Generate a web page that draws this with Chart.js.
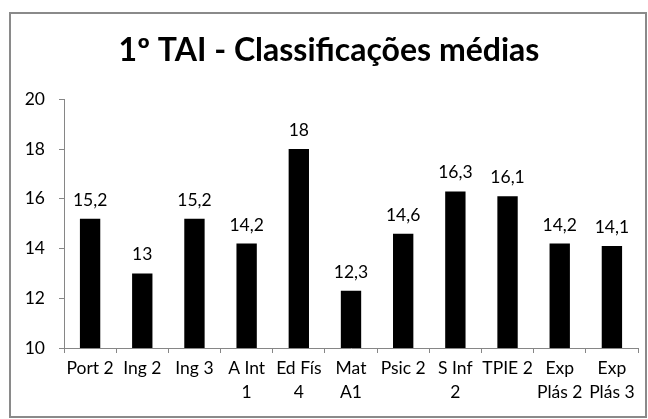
<!DOCTYPE html>
<html lang="pt">
<head>
<meta charset="UTF-8">
<title>1º TAI - Classificações médias</title>
<script src="https://cdn.jsdelivr.net/npm/chart.js"></script>
<style>
    html, body { margin: 0; padding: 0; background: #fff; }
    .wrap { position: relative; width: 648px; height: 419px; }
    .frame {
        position: absolute; left: 9px; top: 12px; width: 634px; height: 402px;
        border: 2px solid #8a8a8a; pointer-events: none;
    }
</style>
</head>
<body>
<div class="wrap">
    <canvas id="chart" width="648" height="419"></canvas>
    <div class="frame"></div>
</div>
<script>
    const disciplinas = ['Port 2', 'Ing 2', 'Ing 3', ['A Int', '1'], ['Ed Fís', '4'], ['Mat', 'A1'],
        'Psic 2', ['S Inf', '2'], 'TPIE 2', ['Exp', 'Plás 2'], ['Exp', 'Plás 3']];
    const medias = [15.2, 13, 15.2, 14.2, 18, 12.3, 14.6, 16.3, 16.1, 14.2, 14.1];
    const yTicks = [10, 12, 14, 16, 18, 20];

    const FONT = 'Lato, Carlito, Calibri, sans-serif';

    // rótulos de valor por cima das barras
    const valueLabels = {
        id: 'valueLabels',
        afterDatasetsDraw(chart) {
            const ctx = chart.ctx;
            const meta = chart.getDatasetMeta(0);
            ctx.save();
            ctx.font = '17.5px ' + FONT;
            ctx.fillStyle = '#000';
            ctx.textAlign = 'center';
            ctx.textBaseline = 'alphabetic';
            meta.data.forEach((bar, i) => {
                const txt = String(medias[i]).replace('.', ',');
                ctx.fillText(txt, bar.x, bar.y - 13);
            });
            ctx.restore();
        }
    };

    new Chart(document.getElementById('chart'), {
        type: 'bar',
        data: {
            labels: disciplinas,
            datasets: [{
                data: medias,
                backgroundColor: '#000',
                barPercentage: 1,
                categoryPercentage: 0.39
            }]
        },
        plugins: [valueLabels],
        options: {
            responsive: false,
            animation: false,
            layout: { padding: { left: 20, right: 10, top: 0, bottom: 9 } },
            plugins: {
                legend: { display: false },
                tooltip: { enabled: false },
                title: {
                    display: true,
                    text: '1º TAI - Classificações médias',
                    color: '#000',
                    font: { family: FONT, size: 32, weight: 'bold', lineHeight: 1.2 },
                    padding: { top: 31, bottom: 30 }
                }
            },
            scales: {
                x: {
                    grid: { drawOnChartArea: false, drawTicks: true, tickLength: 5, color: '#868686', offset: true },
                    border: { color: '#868686' },
                    ticks: { color: '#000', font: { family: FONT, size: 17.5, lineHeight: 1.4 }, padding: 3, maxRotation: 0, autoSkip: false },
                    afterFit(scale) { scale.height = 62; }
                },
                y: {
                    min: 10,
                    max: 20,
                    afterBuildTicks(scale) { scale.ticks = yTicks.map(v => ({ value: v })); },
                    grid: { drawOnChartArea: false, drawTicks: true, tickLength: 5, color: '#868686' },
                    border: { color: '#868686' },
                    ticks: { color: '#000', font: { family: FONT, size: 17.5 }, padding: 14 },
                    afterFit(scale) { scale.width = 44; }
                }
            }
        }
    });
</script>
</body>
</html>
